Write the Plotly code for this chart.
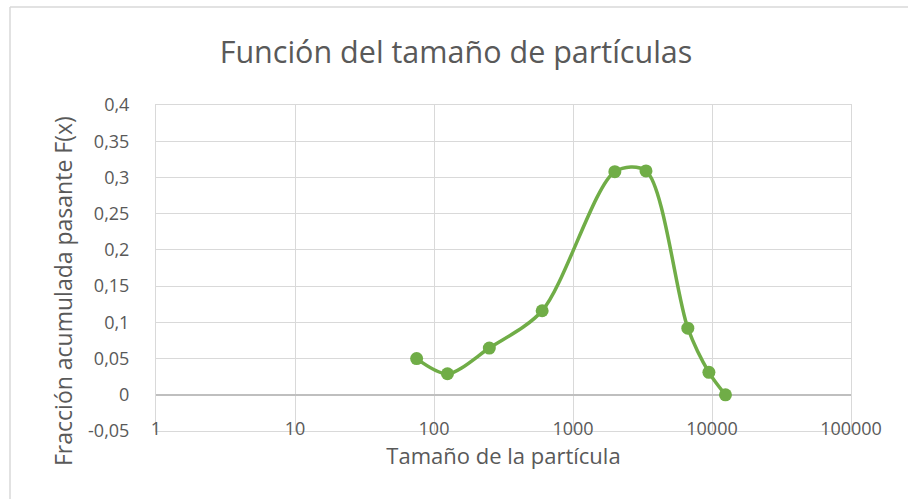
import plotly.graph_objects as go

# Data
particle_size = [75, 125, 250, 600, 2000, 3350, 6700, 9500, 12500]
fraction = [0.05, 0.029, 0.0645, 0.116, 0.308, 0.309, 0.092, 0.031, 0.0]

x_tickvals = [1, 10, 100, 1000, 10000, 100000]
x_ticktext = ["1", "10", "100", "1000", "10000", "100000"]
y_tickvals = [-0.05, 0, 0.05, 0.1, 0.15, 0.2, 0.25, 0.3, 0.35, 0.4]
y_ticktext = ["-0,05", "0", "0,05", "0,1", "0,15", "0,2", "0,25", "0,3", "0,35", "0,4"]

title_text = "Función del tamaño de partículas"
x_title = "Tamaño de la partícula"
y_title = "Fracción acumulada pasante F(x)"

GREEN = "#70ad47"
TXT = "#595959"
GRID = "#d9d9d9"
FONT = "Open Sans"

fig = go.Figure()
fig.add_trace(go.Scatter(
    x=particle_size, y=fraction, mode="lines+markers",
    line=dict(color=GREEN, width=3.5, shape="spline", smoothing=0.85),
    marker=dict(color=GREEN, size=13),
    showlegend=False, hoverinfo="skip",
))

L, R, T, B = 156, 57, 105, 68
W, H = 908, 499
pw, ph = W - L - R, H - T - B

fig.update_layout(
    width=W, height=H,
    margin=dict(l=L, r=R, t=T, b=B, autoexpand=False),
    paper_bgcolor="white", plot_bgcolor="white",
    font=dict(family=FONT, color=TXT, size=18),
    title=dict(text=title_text, x=(456 - L) / pw, xref="paper", xanchor="center",
               y=1 - 52 / H, yanchor="middle",
               font=dict(family=FONT, size=30.5, color=TXT)),
    xaxis=dict(
        type="log", range=[0, 5],
        tickvals=x_tickvals, ticktext=x_ticktext,
        showgrid=True, gridcolor=GRID, gridwidth=1,
        showline=True, linecolor=GRID, linewidth=1, mirror=True,
        zeroline=False, ticks="",
        ticklabelstandoff=-19,
        tickfont=dict(family=FONT, size=18, color=TXT),
        title=dict(text=x_title, font=dict(family=FONT, size=22, color=TXT), standoff=4),
    ),
    yaxis=dict(
        range=[-0.05, 0.4],
        tickvals=y_tickvals, ticktext=y_ticktext,
        showgrid=True, gridcolor=GRID, gridwidth=1,
        showline=True, linecolor=GRID, linewidth=1, mirror=True,
        zeroline=True, zerolinecolor="#bfbfbf", zerolinewidth=1.5,
        ticks="", ticklabelstandoff=22,
        tickfont=dict(family=FONT, size=18, color=TXT),
    ),
)

# y axis title placed as in the reference (centred slightly below the plot centre)
fig.add_annotation(
    text=y_title, textangle=-90, showarrow=False,
    xref="paper", yref="paper",
    x=(63 - L) / pw, y=(H - B - 291) / ph, xanchor="center", yanchor="middle",
    font=dict(family=FONT, size=23, color=TXT),
)

# outer chart border (top and left, as in the reference)
bx = (10 - L) / pw
by = (H - B - 7) / ph
fig.add_shape(type="line", xref="paper", yref="paper", x0=bx, x1=(W - L) / pw, y0=by, y1=by,
              line=dict(color="#d9d9d9", width=1.5))
fig.add_shape(type="line", xref="paper", yref="paper", x0=bx, x1=bx, y0=by, y1=-B / ph,
              line=dict(color="#d9d9d9", width=1.5))

fig.write_html("out.html", config={"displayModeBar": False},
               post_script="document.body.style.margin='0';")
